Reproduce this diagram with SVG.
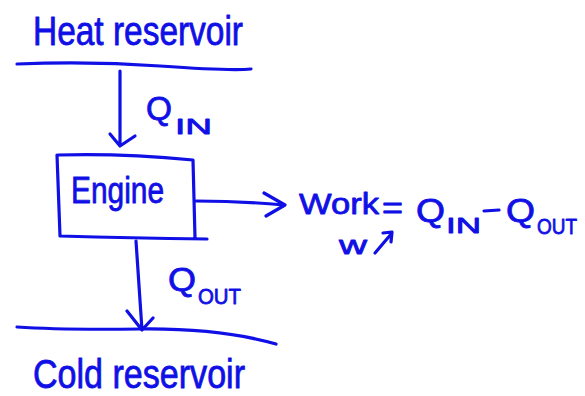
<svg xmlns="http://www.w3.org/2000/svg" width="585" height="396" viewBox="0 0 585 396">
  <style>
    .ink { fill: none; stroke: #1010E6; stroke-width: 3.2; stroke-linecap: round; stroke-linejoin: round; }
    .lbl { fill: #1010E6; stroke: #1010E6; stroke-width: 0.8; stroke-linejoin: round; font-family: "Liberation Sans", "DejaVu Sans", sans-serif; }
    .big { font-size: 40px; }
    .q { font-size: 34px; }
    .sub { font-size: 22px; }
  </style>
  <rect width="585" height="396" fill="#ffffff"/>

  <!-- reservoirs -->
  <g id="heat-reservoir">
    <text class="lbl big" x="33" y="45" textLength="210" lengthAdjust="spacingAndGlyphs">Heat reservoir</text>
    <path class="ink" d="M17,64 Q90,61 160,66 T251,69"/>
  </g>
  <g id="cold-reservoir">
    <path class="ink" d="M17,327 Q60,330 140,329 T276,344"/>
    <text class="lbl big" x="33" y="388" textLength="212" lengthAdjust="spacingAndGlyphs">Cold reservoir</text>
  </g>

  <!-- engine -->
  <g id="engine">
    <path class="ink" d="M57,155 L60,236 Q130,238 207,239 M58,155 Q120,153 193,160 L195,238"/>
    <text class="lbl" x="71" y="203" font-size="36" textLength="93" lengthAdjust="spacingAndGlyphs">Engine</text>
  </g>

  <!-- connectors -->
  <g id="connectors">
    <path class="ink" d="M120,71 L120,145 M110,134 L120,146 L135,136"/>
    <path class="ink" d="M136,241 L142,330 M127,311 L142,330 L153,318"/>
    <path class="ink" d="M196,201 Q240,201 284,205 M264,193 L285,205 L266,216"/>
    <path class="ink" d="M375,253 L392,233 M383,233 L392,232 L391,242"/>
  </g>

  <!-- labels -->
  <g id="q-in">
    <text class="lbl q" x="146" y="120" textLength="26" lengthAdjust="spacingAndGlyphs">Q</text>
    <text class="lbl sub" x="175" y="134" textLength="37" lengthAdjust="spacingAndGlyphs">IN</text>
  </g>
  <g id="q-out">
    <text class="lbl q" x="168" y="291" textLength="28" lengthAdjust="spacingAndGlyphs">Q</text>
    <text class="lbl sub" x="198" y="304" textLength="43" lengthAdjust="spacingAndGlyphs">OUT</text>
  </g>
  <g id="work">
    <text class="lbl" x="299" y="214" font-size="29" textLength="80" lengthAdjust="spacingAndGlyphs">Work</text>
    <text class="lbl" x="382" y="218" font-size="30" textLength="21" lengthAdjust="spacingAndGlyphs">=</text>
    <text class="lbl q" x="416" y="222" textLength="29" lengthAdjust="spacingAndGlyphs">Q</text>
    <text class="lbl sub" x="446" y="233" textLength="35" lengthAdjust="spacingAndGlyphs">IN</text>
    <path class="ink" d="M484,211 L499,210"/>
    <text class="lbl q" x="506" y="222" textLength="29" lengthAdjust="spacingAndGlyphs">Q</text>
    <text class="lbl sub" x="537" y="234" textLength="40" lengthAdjust="spacingAndGlyphs">OUT</text>
    <text class="lbl" x="339" y="254" font-size="26" textLength="28" lengthAdjust="spacingAndGlyphs">w</text>
  </g>
</svg>
